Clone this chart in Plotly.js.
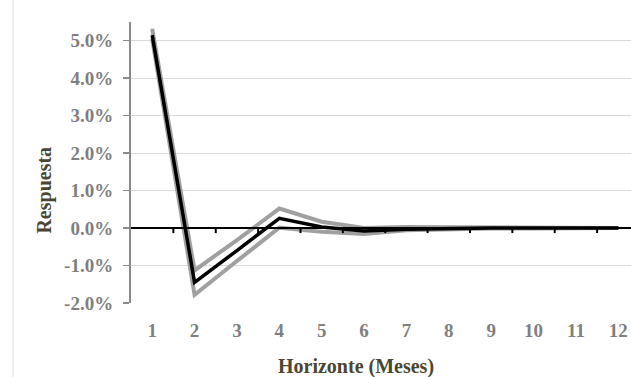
<!DOCTYPE html>
<html>
<head>
<meta charset="utf-8">
<script src="https://cdn.plot.ly/plotly-3.0.1.min.js"></script>
<style>html,body{margin:0;padding:0;background:#fff;}#chart{width:631px;height:377px;}</style>
</head>
<body>
<div id="chart"></div>
<script>
var horizon = [1, 2, 3, 4, 5, 6, 7, 8, 9, 10, 11, 12];
var respuesta = [5.15, -1.45, -0.6, 0.26, 0.03, -0.08, -0.03, -0.01, 0.0, 0.0, 0.0, 0.0];
var bandaSuperior = [5.32, -1.13, -0.32, 0.52, 0.17, 0.0, 0.03, 0.02, 0.01, 0.0, 0.0, 0.0];
var bandaInferior = [5.05, -1.78, -0.88, 0.01, -0.1, -0.16, -0.06, -0.03, -0.01, -0.01, 0.0, 0.0];
var yTickVals = [-2, -1, 0, 1, 2, 3, 4, 5];
var yTickText = ["-2.0%", "-1.0%", "0.0%", "1.0%", "2.0%", "3.0%", "4.0%", "5.0%"];

var serif = "Liberation Serif";
var grayLine = {color: '#a0a0a0', width: 4};

var traces = [
  {x: horizon, y: bandaSuperior, type: 'scatter', mode: 'lines', line: grayLine, hoverinfo: 'skip'},
  {x: horizon, y: bandaInferior, type: 'scatter', mode: 'lines', line: grayLine, hoverinfo: 'skip'},
  {x: horizon, y: respuesta, type: 'scatter', mode: 'lines', line: {color: '#000000', width: 3.5}}
];

// category boundary ticks on the zero line
var shapes = [];
for (var i = 0; i < horizon.length; i++) {
  var b = horizon[i] + 0.5;
  shapes.push({type: 'line', xref: 'x', yref: 'y', ysizemode: 'pixel', yanchor: 0,
    x0: b, x1: b, y0: 0, y1: -5, line: {color: '#000', width: 2}});
}
shapes.push({type: 'line', xref: 'x', yref: 'y', x0: 0.5, x1: 12.4, y0: 0, y1: 0,
  line: {color: '#000', width: 2}, layer: 'above'});
shapes.push({type: 'line', xref: 'paper', yref: 'paper', xsizemode: 'pixel', xanchor: 0,
  x0: -118, x1: -118, y0: -0.3, y1: 1.2, line: {color: '#e0e0e0', width: 1}});

var layout = {
  width: 631, height: 377,
  margin: {l: 131, r: 0, t: 22, b: 74},
  paper_bgcolor: '#fff', plot_bgcolor: '#fff',
  showlegend: false,
  font: {family: serif},
  xaxis: {
    range: [0.5, 12.3], tickvals: horizon, ticktext: horizon.map(String),
    showgrid: false, zeroline: false, showline: false, ticks: '',
    ticklabelstandoff: 14,
    tickfont: {family: serif, size: 19, color: '#7f7f7f', weight: 'bold'}
  },
  yaxis: {
    range: [-2, 5.5], tickvals: yTickVals, ticktext: yTickText,
    showgrid: true, gridcolor: '#d9d9d9', gridwidth: 1,
    zeroline: false, showline: true, linecolor: '#8a8a8a', linewidth: 2,
    ticks: 'outside', ticklen: 6, tickcolor: '#8a8a8a', tickwidth: 1.5,
    ticklabelstandoff: 6,
    tickfont: {family: serif, size: 19, color: '#7f7f7f', weight: 'bold'}
  },
  shapes: shapes,
  annotations: [
    {text: 'Respuesta', xref: 'paper', yref: 'paper', xanchor: 'center', yanchor: 'middle',
     x: 0, xshift: -86, y: 0.4, textangle: -90, showarrow: false,
     font: {family: serif, size: 20, color: '#4a4631', weight: 'bold'}},
    {text: 'Horizonte (Meses)', xref: 'paper', yref: 'paper', xanchor: 'center', yanchor: 'middle',
     x: 0.45, y: 0, yshift: -63, showarrow: false,
     font: {family: serif, size: 20, color: '#4a4631', weight: 'bold'}}
  ]
};

Plotly.newPlot('chart', traces, layout, {displayModeBar: false, staticPlot: true});
</script>
</body>
</html>
